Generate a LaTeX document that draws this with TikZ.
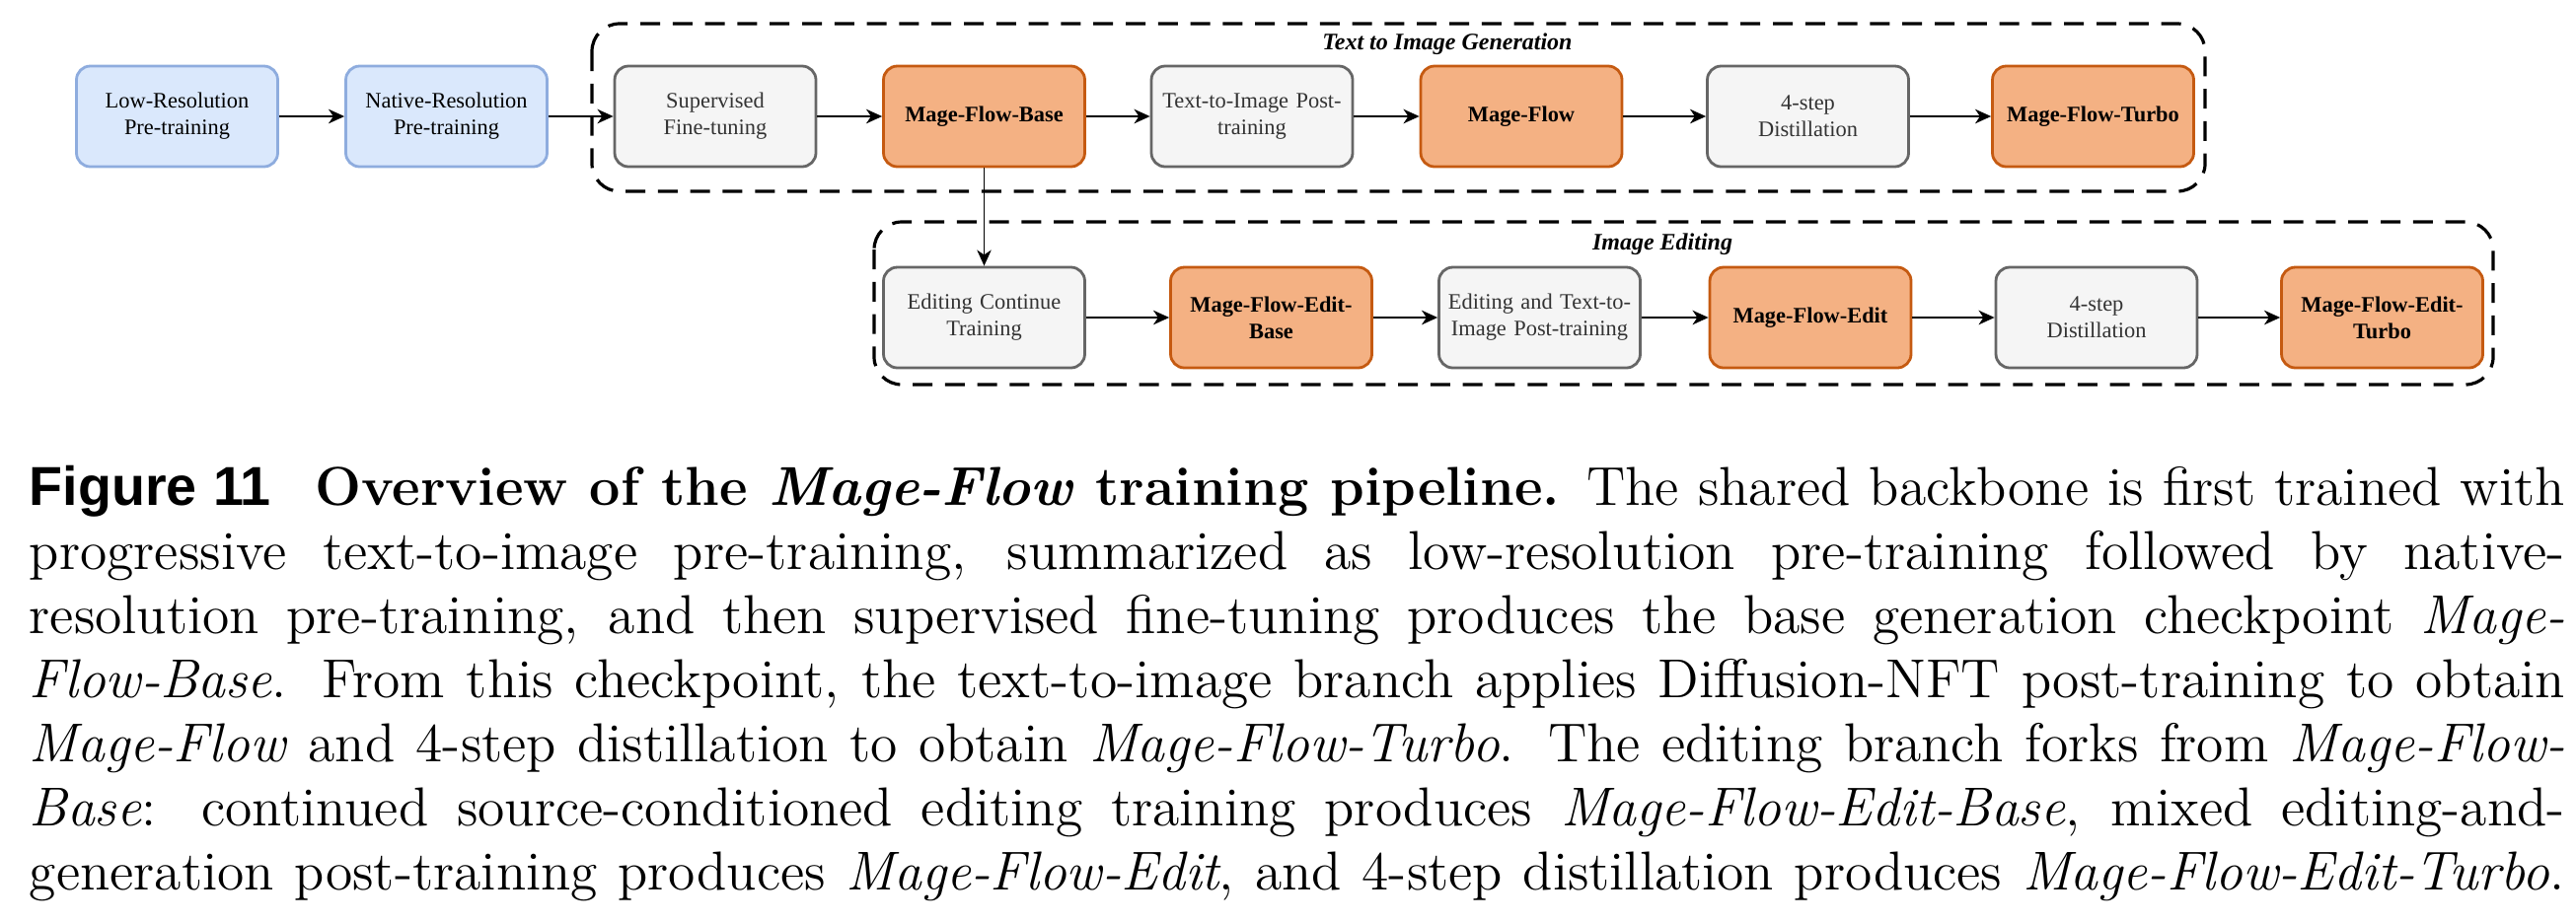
\documentclass[tikz,border=0pt]{standalone}
\usepackage{fontspec}
\usetikzlibrary{arrows.meta}
\newfontfamily\dfont{Liberation Serif}
\newfontfamily\figfont{Liberation Sans}
\definecolor{bfill}{HTML}{DAE8FC}\definecolor{bline}{HTML}{8EACDE}
\definecolor{gfill}{HTML}{F5F5F5}\definecolor{gline}{HTML}{666666}\definecolor{gtext}{HTML}{333333}
\definecolor{ofill}{HTML}{F4B183}\definecolor{oline}{HTML}{C55A11}
\begin{document}
\begin{tikzpicture}[x=0.25pt,y=-0.25pt,
 box/.style={rounded corners=3.5pt,minimum width=51pt,minimum height=25.5pt,inner sep=1pt,text width=49pt,align=center,line width=0.7pt,font=\dfont\fontsize{5.6}{6.8}\selectfont},
 blue/.style={box,fill=bfill,draw=bline},
 gray/.style={box,fill=gfill,draw=gline,text=gtext},
 org/.style={box,fill=ofill,draw=oline,font=\dfont\bfseries\fontsize{5.6}{6.8}\selectfont},
 arr/.style={line width=0.6pt,-{Stealth[length=4pt,width=3.6pt,inset=1.2pt]}},
 region/.style={draw,line width=0.8pt,dash pattern=on 5pt off 3.2pt,rounded corners=7pt},
 lab/.style={font=\dfont\bfseries\itshape\fontsize{6}{7}\selectfont}]
\useasboundingbox (0,0) rectangle (2611,935);
\draw[region] (600,24) rectangle (2235,194);
\draw[region] (886,225) rectangle (2527,390);
\node[lab] (l1) at (1467,45) {Text to Image Generation};
\node[lab] (l2) at (1685,248) {Image Editing};
\node[blue] (a1) at (179.5,118) {Low-Resolution\\Pre-training};
\node[blue] (a2) at (452.5,118) {Native-Resolution\\Pre-training};
\node[gray] (a3) at (725,118) {Supervised\\Fine-tuning};
\node[org] (a4) at (997.5,118) {Mage-Flow-Base};
\node[gray] (a5) at (1269,118) {Text-to-Image Post-\\training};
\node[org] (a6) at (1542,118) {Mage-Flow};
\node[gray] (a7) at (1832.5,118) {4-step\\Distillation};
\node[org] (a8) at (2121.5,118) {Mage-Flow-Turbo};
\node[gray] (b1) at (997.5,322) {Editing Continue\\Training};
\node[org] (b2) at (1288.5,322) {Mage-Flow-Edit-\\Base};
\node[gray] (b3) at (1560.5,322) {Editing and Text-to-\\Image Post-training};
\node[org] (b4) at (1835,322) {Mage-Flow-Edit};
\node[gray] (b5) at (2125,322) {4-step\\Distillation};
\node[org] (b6) at (2414.5,322) {Mage-Flow-Edit-\\Turbo};
\foreach \u/\v in {a1/a2,a2/a3,a3/a4,a4/a5,a5/a6,a6/a7,a7/a8,b1/b2,b2/b3,b3/b4,b4/b5,b5/b6}
  \draw[arr] (\u) -- (\v);
\draw[arr,line width=0.45pt] (a4) -- (b1);
\node[anchor=north west,inner sep=0pt,text width=642.5pt,align=justify,font=\fontsize{13.9}{16.25}\selectfont] (cap) at (29,471) {%
\parfillskip=0pt
{\figfont\bfseries Figure 11}\hspace{0.8em}\textbf{Overview of the \textit{Mage-Flow} training pipeline.} The shared backbone is first trained with\linebreak
progressive text-to-image pre-training, summarized as low-resolution pre-training followed by native-\linebreak
resolution pre-training, and then supervised fine-tuning produces the base generation checkpoint \textit{Mage-}\linebreak
\textit{Flow-Base}. From this checkpoint, the text-to-image branch applies Diffusion-NFT post-training to obtain\linebreak
\textit{Mage-Flow} and 4-step distillation to obtain \textit{Mage-Flow-Turbo}. The editing branch forks from \textit{Mage-Flow-}\linebreak
\textit{Base}: continued source-conditioned editing training produces \textit{Mage-Flow-Edit-Base}, mixed editing-and-\linebreak
generation post-training produces \textit{Mage-Flow-Edit}, and 4-step distillation produces \textit{Mage-Flow-Edit-Turbo}.\par};
\end{tikzpicture}
\end{document}
